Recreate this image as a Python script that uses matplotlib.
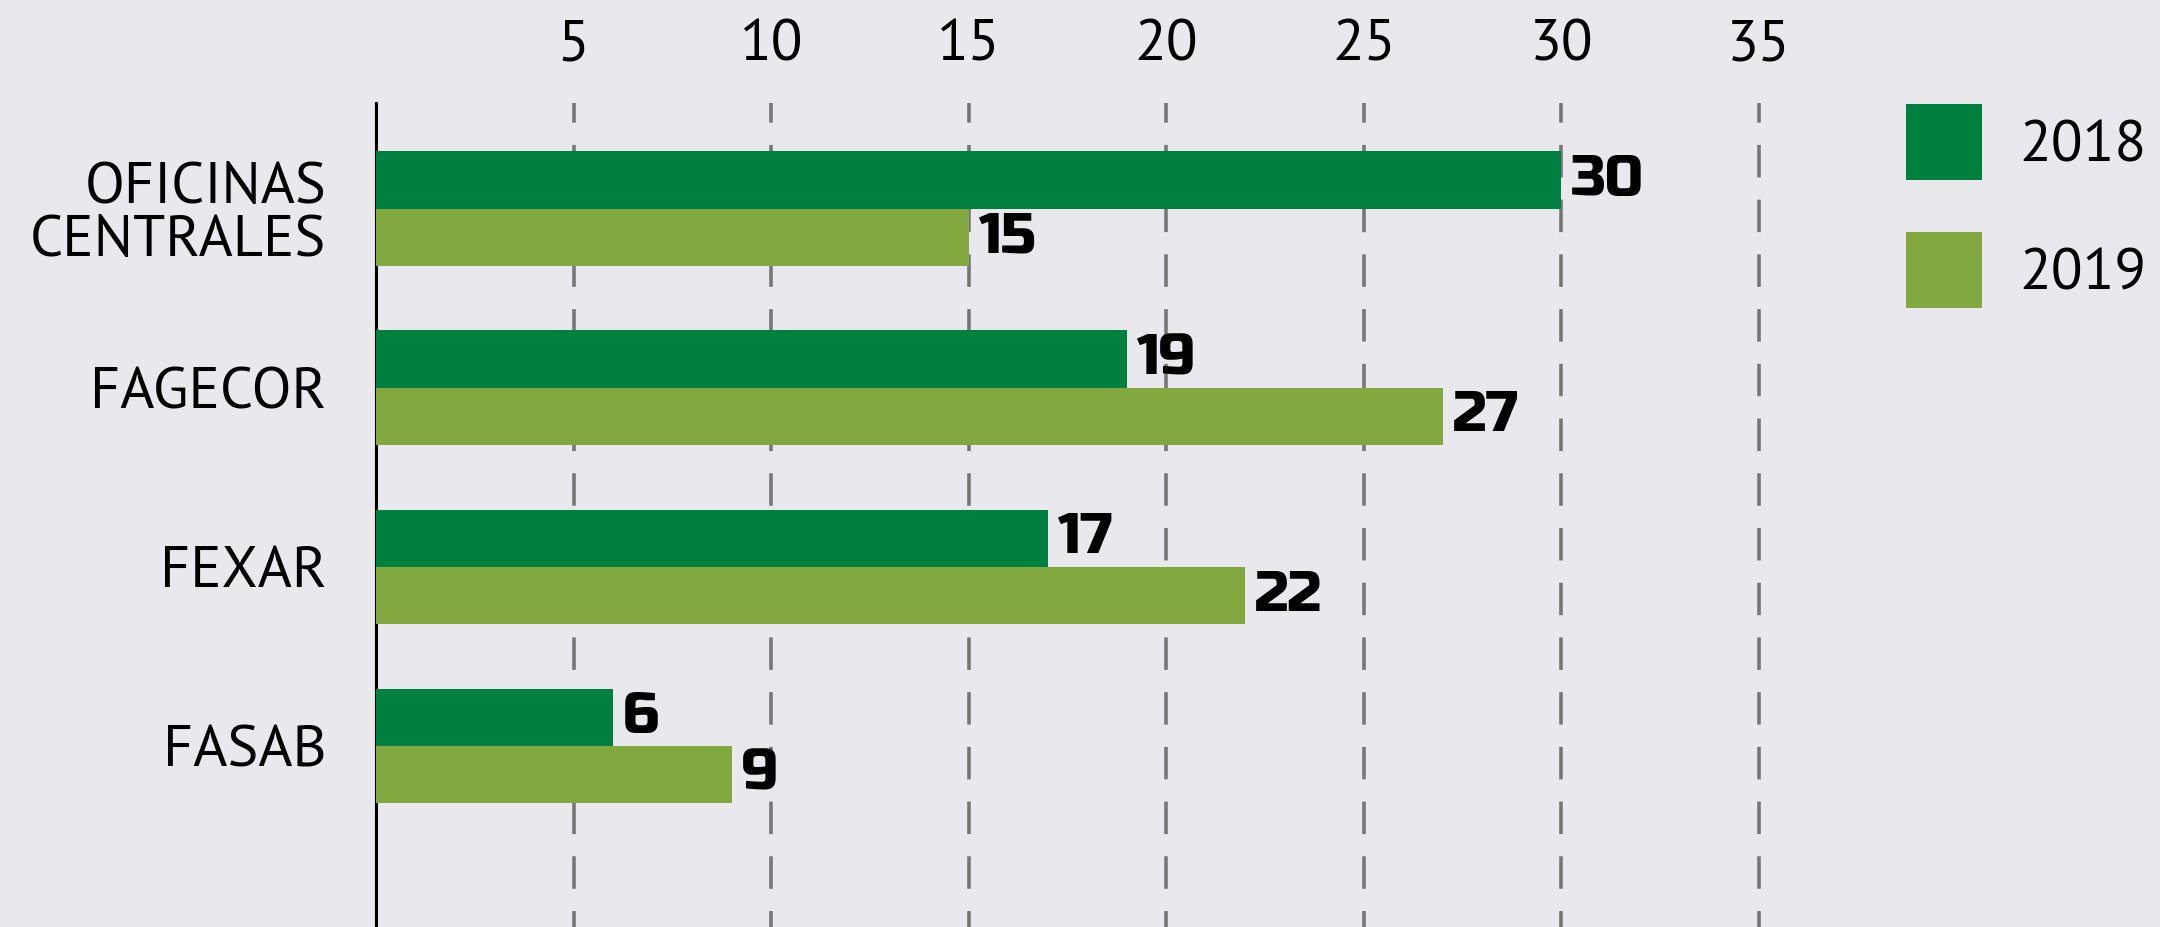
import numpy as np
import matplotlib
matplotlib.use("Agg")
import matplotlib.pyplot as plt

plt.rcParams['lines.scale_dashes'] = False
plt.rcParams['font.family'] = ['PT Sans', 'Asap Condensed', 'Encode Sans Condensed', 'DejaVu Sans']

# data
categories = ["OFICINAS\nCENTRALES", "FAGECOR", "FEXAR", "FASAB"]
vals_2018 = [30, 19, 17, 6]
vals_2019 = [15, 27, 22, 9]
years = ["2018", "2019"]
xticks = [5, 10, 15, 20, 25, 30, 35]

c2018 = "#00803f"
c2019 = "#82a93f"
bg = "#e9e9ed"
value_font = ['Russo One', 'Archivo Black', 'DejaVu Sans']

W, H = 2160, 927
fig = plt.figure(figsize=(W/100, H/100), dpi=100, facecolor=bg)
ax = fig.add_axes([376.3/W, 0, 36*39.5/W, (H-103)/H])
ax.set_facecolor(bg)

y = np.arange(len(categories))
bh = 0.32
b1 = ax.barh(y - bh/2, vals_2018, height=bh, color=c2018, label=years[0], zorder=3)
b2 = ax.barh(y + bh/2, vals_2019, height=bh, color=c2019, label=years[1], zorder=3)

for b in (b1, b2):
    ax.bar_label(b, padding=7, fontsize=41, fontweight='bold', family=value_font)

ax.set_xlim(0, 36)
ax.set_ylim(len(categories) - 1 + 1.01, -0.59)

ax.xaxis.tick_top()
ax.set_xticks(xticks)
ax.set_xticklabels([str(t) for t in xticks], fontsize=42)
ax.tick_params(axis='x', length=0, pad=22)
ax.set_yticks(y)
ax.set_yticklabels(categories, fontsize=42, linespacing=1.0)
ax.tick_params(axis='y', length=0, pad=36)

ax.grid(axis='x', color='#777777', linewidth=2.6, linestyle=(11.9, (23.4, 16.0)))
ax.set_axisbelow(True)

for s in ['top', 'right', 'bottom']:
    ax.spines[s].set_visible(False)
ax.spines['left'].set_linewidth(2.2)
ax.spines['left'].set_color('black')

fig.legend(handles=[b1, b2], labels=years, loc='upper left',
           bbox_to_anchor=(1906/W, 1 - 104/H), frameon=False, fontsize=42,
           handlelength=1.3, handleheight=1.63, handletextpad=0.64,
           labelspacing=0.89, borderpad=0, borderaxespad=0)

fig.savefig("out.png", dpi=100, facecolor=bg)
